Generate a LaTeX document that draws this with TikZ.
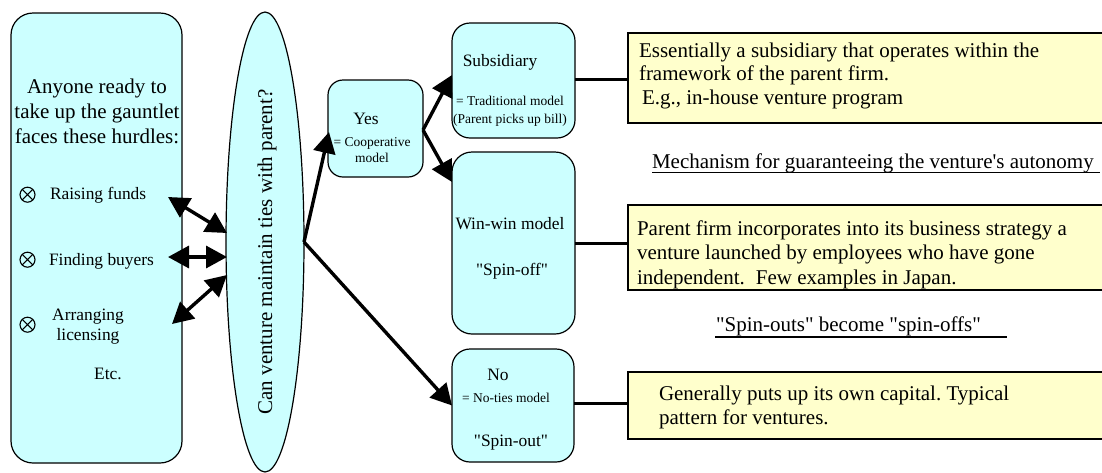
\documentclass[tikz,border=0pt]{standalone}
\usepackage{fontspec}
\newfontfamily\tnr{Liberation Serif}
\usetikzlibrary{arrows.meta,shapes.geometric,calc}
\definecolor{paleCyan}{HTML}{CCFFFF}
\definecolor{paleYellow}{HTML}{FFFFCC}
\newcommand\fsz[2]{\tnr\frenchspacing\fontsize{#1pt}{#2pt}\selectfont}

\begin{document}
\begin{tikzpicture}[x=1pt,y=-1pt,
  every node/.style={inner sep=0pt, outer sep=0pt},
  cyanbox/.style={draw, line width=1.2pt, fill=paleCyan, rounded corners=#1},
  notebox/.style={draw, line width=1.3pt, fill=paleYellow, minimum width=487pt},
  big/.style={font=\fsz{21}{25}},
  mid/.style={font=\fsz{17.4}{20}},
  small/.style={font=\fsz{13.5}{16}},
  otimes/.style={circle, draw, line width=1.1pt, minimum size=15pt,
    path picture={\draw[line width=1.1pt]
      (path picture bounding box.north west) -- (path picture bounding box.south east)
      (path picture bounding box.north east) -- (path picture bounding box.south west);}},
  dblarrow/.style={line width=3.4pt,
    {Triangle[length=21pt,width=22pt]}-{Triangle[length=21pt,width=22pt]}},
  onearrow/.style={line width=3.4pt, -{Triangle[length=21pt,width=22pt]}},
  link/.style={line width=3pt},
  uline/.style={line width=1.3pt}
]
\useasboundingbox (0,0) rectangle (1102,472);
\clip (0,0) rectangle (1102,472);

% ---------- left panel: hurdles ----------
\node[cyanbox=22pt, minimum width=171pt, minimum height=450pt] (hurdles) at (96.5,238) {};
\node[big, align=center] (hurdlesT) at (97,111.2)
  {Anyone ready to\\take up the gauntlet\\faces these hurdles:};
\node[otimes] (b1) at (27.5,194.7) {};
\node[mid, anchor=west] (h1) at (50,195.3) {Raising funds};
\node[otimes] (b2) at (27.5,259.7) {};
\node[mid, anchor=west] (h2) at (49,261.7) {Finding buyers};
\node[otimes] (b3) at (27.5,324.7) {};
\node[mid, align=center] (h3) at (88,327) {Arranging\\licensing};
\node[mid] (h4) at (108,374) {Etc.};

% ---------- central question ----------
\node[ellipse, draw, line width=1.2pt, fill=paleCyan,
      minimum width=78pt, minimum height=460pt] (q) at (265,242) {};
\node[big, rotate=90] (qT) at (267,252) {Can venture maintain ties with parent?};

% ---------- model boxes ----------
\node[cyanbox=15pt, minimum width=95pt, minimum height=97pt] (yes) at (375.5,128.5) {};
\node[mid] (yesT) at (366,119) {Yes};
\node[small, align=center] (yesS) at (372,150) {= Cooperative\\model};

\node[cyanbox=18pt, minimum width=123pt, minimum height=115pt] (sub) at (513.5,80.5) {};
\node[mid] (subT) at (500,62.7) {Subsidiary};
\node[align=center, font=\fsz{13.5}{18}] (subS) at (510,111.6)
  {= Traditional model\\(Parent picks up bill)};

\node[cyanbox=20pt, minimum width=123pt, minimum height=182pt] (win) at (513.5,243) {};
\node[mid] (winT) at (510,223.4) {Win-win model};
\node[mid] (winS) at (512,271) {"Spin-off"};

\node[cyanbox=18pt, minimum width=122pt, minimum height=113pt] (no) at (513,405.5) {};
\node[mid] (noT) at (498,374.8) {No};
\node[small] (noS) at (506,398) {= No-ties model};
\node[mid] (noU) at (511,442.7) {"Spin-out"};

% ---------- notes ----------
\node[notebox, minimum height=90pt] (n1) at (871.5,78) {};
\node[align=left, anchor=west, font=\fsz{21}{23.4}] (n1T) at (639,75.8)
  {Essentially a subsidiary that operates within the\\framework of the parent firm.\\\hspace*{3pt}E.g., in-house venture program};

\node[big, anchor=west] (mech) at (652,163) {Mechanism for guaranteeing the venture's autonomy};
\coordinate (mechR) at (1100,0);
\draw[uline] ($(mech.base west)+(0,4.5)$) -- ($(mech.base west -| mechR)+(0,4.5)$);

\node[notebox, minimum height=85pt] (n2) at (871.5,247.5) {};
\node[align=left, anchor=west, font=\fsz{21}{24.5}] (n2T) at (637,254.6)
  {Parent firm incorporates into its business strategy a\\venture launched by employees who have gone\\independent.\hspace{11pt}Few examples in Japan.};

\node[big, anchor=west] (spin) at (716,326.8) {"Spin-outs" become "spin-offs"};
\coordinate (spinR) at (1007,0);
\draw[uline] ($(spin.base west)+(-1,5)$) -- ($(spin.base west -| spinR)+(0,5)$);

\node[notebox, minimum height=67pt] (n3) at (871.5,405.5) {};
\node[align=left, anchor=west, font=\fsz{21}{24}] (n3T) at (659,407)
  {Generally puts up its own capital. Typical\\pattern for ventures.};

% ---------- connectors ----------
\coordinate (a1L) at (168,197);  \coordinate (a1R) at (227,233);
\coordinate (a2L) at (168,257);  \coordinate (a2R) at (227,257);
\coordinate (a3L) at (172,324);  \coordinate (a3R) at (227,275);
\draw[dblarrow] (a1L) -- (a1R);
\draw[dblarrow] (a2L) -- (a2R);
\draw[dblarrow] (a3L) -- (a3R);

\coordinate (fork) at (q.east);
\coordinate (yesIn) at ($(yes.west)+(1,3.5)$);
\draw[onearrow] (fork) -- (yesIn);
\draw[onearrow] (fork) -- (no.west);

\coordinate (yesOut) at ($(yes.east)+(0,1.5)$);
\coordinate (subIn) at ($(sub.west)+(0,-5.5)$);
\coordinate (winIn) at ($(win.north west)+(0,30)$);
\draw[onearrow] (yesOut) -- (subIn);
\draw[onearrow] (yesOut) -- (winIn);

\draw[link] ($(sub.east)+(0,-1.5)$) -- ($(sub.east -| n1.west)+(0,-1.5)$);
\draw[link] (win.east) -- (win.east -| n2.west);
\draw[link] ($(no.east)+(0,-2.5)$) -- ($(no.east -| n3.west)+(0,-2.5)$);
\end{tikzpicture}
\end{document}
